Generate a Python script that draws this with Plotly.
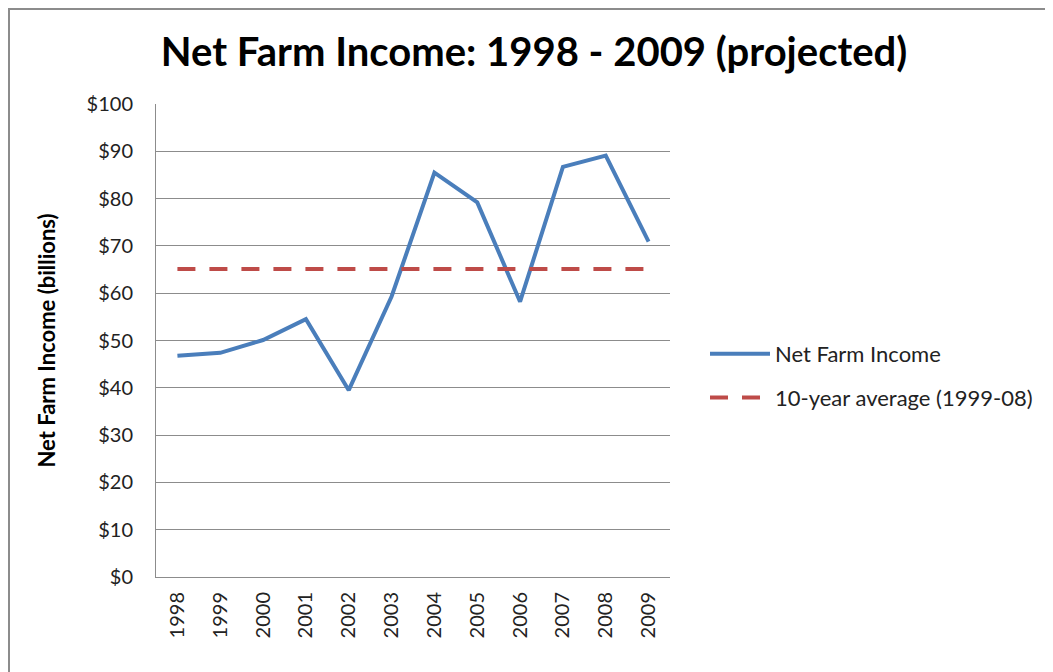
import plotly.graph_objects as go

# Net farm income, billions of dollars
years = ["1998", "1999", "2000", "2001", "2002", "2003",
         "2004", "2005", "2006", "2007", "2008", "2009"]
income = [46.8, 47.4, 50.1, 54.5, 39.5, 59.3, 85.5, 79.2, 58.2, 86.7, 89.1, 70.9]
avg_value = 65.1
average = [avg_value] * len(years)

y_ticks = list(range(0, 101, 10))
y_labels = ["$" + str(v) for v in y_ticks]

FONT = "Lato, 'Open Sans', sans-serif"

fig = go.Figure()

fig.add_trace(go.Scatter(
    x=years, y=income, mode="lines",
    line=dict(color="#4A7EBB", width=4),
    name="Net Farm Income", legendgroup="a",
))

fig.add_trace(go.Scatter(
    x=years, y=average, mode="lines",
    line=dict(color="#BE4B48", width=4, dash="18px,14px"),
    name="10-year average (1999-08)", legendgroup="b",
))

# page body has an 8px margin, so the figure starts at (8, 8)
OFF = 8
W, H = 1053 - OFF, 672 - OFF
L, T = 156 - OFF, 104 - OFF
pw, ph = 514, 473
R, B = W - L - pw, H - T - ph

# outer chart border (Excel chart area), top and left edges visible
fig.add_shape(
    type="rect", xref="paper", yref="paper",
    x0=(1 - L) / pw, x1=(W + 10 - L) / pw,
    y0=-(H + 10 - T - ph) / ph, y1=1 + (T - 1) / ph,
    line=dict(color="#8c8c8c", width=2),
)

fig.update_layout(
    width=W, height=H,
    margin=dict(l=L, r=R, t=T, b=B),
    paper_bgcolor="white", plot_bgcolor="white",
    font=dict(family=FONT, color="#222"),
    title=dict(
        text="<b>Net Farm Income: 1998 - 2009 (projected)</b>",
        x=(534 - OFF) / W, xanchor="center", y=1 - (52 - OFF) / H, yanchor="middle",
        font=dict(size=40, color="black", family=FONT),
    ),
    xaxis=dict(
        type="category", tickangle=-90, range=[-0.5, len(years) - 0.5],
        tickfont=dict(size=20, color="#222"),
        showline=True, linecolor="#8c8c8c", linewidth=1,
        showgrid=False, ticks="", ticklabelstandoff=6,
    ),
    yaxis=dict(
        range=[0, 100], tickvals=y_ticks, ticktext=y_labels,
        tickfont=dict(size=20, color="#222"),
        showline=True, linecolor="#8c8c8c", linewidth=1,
        gridcolor="#8c8c8c", gridwidth=1, zeroline=False,
        ticks="", ticklabelstandoff=18,
        title=dict(text="<b>Net Farm Income (billions)</b>",
                   font=dict(size=22, color="black"), standoff=24),
    ),
    legend=dict(
        x=(705 - 156) / pw, y=(672 - 95 - 376) / ph, xanchor="left", yanchor="middle",
        font=dict(size=22, color="#222"),
        tracegroupgap=12, itemwidth=60,
        bgcolor="rgba(0,0,0,0)",
    ),
)

fig.write_html("out.html")
